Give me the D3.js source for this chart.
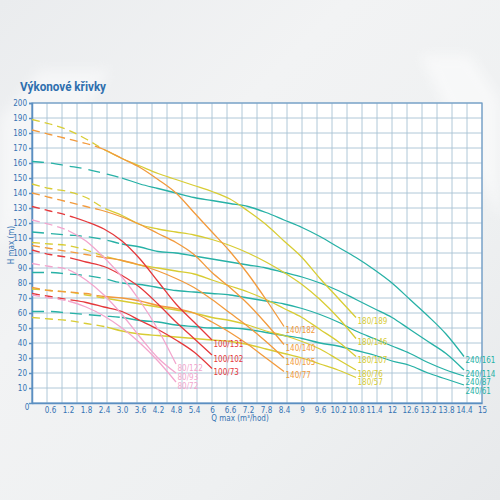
<!DOCTYPE html>
<html>
<head>
<meta charset="utf-8">
<script src="https://cdn.jsdelivr.net/npm/d3@7"></script>
<style>
  body { margin: 0; }
  svg { display: block; }
</style>
</head>
<body>
<div id="chart"></div>
<script>
// flow values (m3/hod) for each pump family
const q80 = [0, 0.6, 1.2, 1.8, 2.4, 3.0, 3.6, 4.2, 4.8];
const q100 = [0, 0.6, 1.2, 1.8, 2.4, 3.0, 3.6, 4.2, 4.8, 5.4, 6.0];
const q140 = [0, 0.6, 1.2, 1.8, 2.4, 3.0, 3.6, 4.2, 4.8, 5.4, 6.0, 6.6, 7.2, 7.8, 8.4];
const q180 = [0, 0.6, 1.2, 1.8, 2.4, 3.0, 3.6, 4.2, 4.8, 5.4, 6.0, 6.6, 7.2, 7.8, 8.4, 9.0, 9.6, 10.2, 10.8];
const q240 = [0, 0.6, 1.2, 1.8, 2.4, 3.0, 3.6, 4.2, 4.8, 5.4, 6.0, 6.6, 7.2, 7.8, 8.4, 9.0, 9.6, 10.2, 10.8, 11.4, 12.0, 12.6, 13.2, 13.8, 14.4];

// head (m)
const h80_122 = [122, 119, 115, 108, 97, 84, 68, 49, 26];
const h80_93 = [93, 91, 89, 82, 72, 59, 44, 30, 20];
const h80_72 = [72, 70, 68, 64, 58, 50, 40, 28, 14];

const h100_131 = [131, 128, 125, 121, 116, 108, 96, 81, 66, 54, 42];
const h100_102 = [102, 99, 97, 94, 91, 85, 77, 66, 54, 43, 32];
const h100_73 = [73, 71, 69, 67, 64, 61, 55, 49, 42, 34, 23];

const h140_182 = [182, 179, 176, 173, 169, 163, 157, 149, 140, 127, 114, 101, 86, 69, 51];
const h140_140 = [140, 137, 134, 131, 128, 124, 119, 113, 107, 99, 87, 77, 66, 53, 39];
const h140_105 = [105, 103, 101, 99, 97, 95, 92, 88, 83, 77, 69, 60, 51, 41, 30];
const h140_77 = [77, 75, 74, 73, 71, 70, 68, 65, 63, 60, 54, 47, 39, 30, 21];

const h180_189 = [189, 186, 182, 176, 169, 163, 158, 153, 149, 145, 141, 136, 128, 119, 108, 97, 83, 70, 57];
const h180_146 = [146, 143, 141, 137, 130, 125, 119, 116, 114, 112, 109, 105, 100, 94, 87, 79, 69, 57, 43];
const h180_107 = [107, 106, 105, 102, 98, 95, 92, 90, 88, 86, 82, 78, 74, 69, 63, 57, 49, 41, 31];
const h180_76 = [76, 75, 74, 72, 70, 68, 66, 64, 62, 60, 57, 55, 52, 48, 45, 41, 36, 29, 22];
const h180_57 = [57, 56, 55, 53, 51, 48, 46, 45, 44, 43, 42, 41, 39, 36, 33, 30, 26, 22, 17];

const h240_161 = [161, 160, 158, 156, 153, 150, 146, 143, 140, 137, 135, 133, 131, 127, 122, 117, 111, 104, 97, 89, 80, 69, 58, 46, 31];
const h240_114 = [114, 113, 112, 111, 109, 106, 104, 101, 100, 98, 96, 94, 92, 90, 87, 84, 80, 75, 69, 63, 57, 49, 41, 33, 22];
const h240_87 = [87, 87, 86, 85, 83, 80, 79, 77, 75, 74, 73, 72, 70, 68, 66, 63, 59, 54, 48, 43, 38, 33, 27, 22, 18];
const h240_61 = [61, 61, 60, 59, 58, 57, 55, 54, 52, 51, 50, 50, 49, 47, 45, 43, 40, 38, 35, 32, 28, 25, 20, 16, 12];

// flow where the dashed (out of range) part of each family ends
const dashEnd = { "80": 1.2, "100": 1.4, "140": 2.2, "180": 2.5, "240": 3.0 };

const xTicks = [0.6, 1.2, 1.8, 2.4, 3.0, 3.6, 4.2, 4.8, 5.4, 6, 6.6, 7.2, 7.8, 8.4, 9, 9.6, 10.2, 10.8, 11.4, 12, 12.6, 13.2, 13.8, 14.4, 15];
const xTickLabels = ["0.6", "1.2", "1.8", "2.4", "3.0", "3.6", "4.2", "4.8", "5.4", "6", "6.6", "7.2", "7.8", "8.4", "9", "9.6", "10.2", "10.8", "11.4", "12", "12.6", "13.2", "13.8", "14.4", "15"];
const yTicks = [10, 20, 30, 40, 50, 60, 70, 80, 90, 100, 110, 120, 130, 140, 150, 160, 170, 180, 190, 200];

const colors = { "80": "#f3a5cd", "100": "#e5383b", "140": "#f29a3c", "180": "#d8cc34", "240": "#27b1a6" };

const families = [
  { fam: "240", q: q240, curves: [["240/161", h240_161], ["240/114", h240_114], ["240/87", h240_87], ["240/61", h240_61]] },
  { fam: "180", q: q180, curves: [["180/189", h180_189], ["180/146", h180_146], ["180/107", h180_107], ["180/76", h180_76], ["180/57", h180_57]] },
  { fam: "140", q: q140, curves: [["140/182", h140_182], ["140/140", h140_140], ["140/105", h140_105], ["140/77", h140_77]] },
  { fam: "100", q: q100, curves: [["100/131", h100_131], ["100/102", h100_102], ["100/73", h100_73]] },
  { fam: "80", q: q80, curves: [["80/122", h80_122], ["80/93", h80_93], ["80/72", h80_72]] }
];

const width = 500, height = 500;
const plotL = 32, plotR = 482, plotT = 103, plotB = 403;
const tickFont = "'Liberation Sans Narrow', 'DejaVu Sans Condensed', sans-serif";
const blue = "#3573b3";

const x = d3.scaleLinear().domain([0, 15]).range([plotL, plotR]);
const y = d3.scaleLinear().domain([0, 200]).range([plotB, plotT]);

const svg = d3.select("#chart").append("svg")
  .attr("width", width)
  .attr("height", height);

// background with soft light streaks
const defs = svg.append("defs");
const bg = defs.append("linearGradient").attr("id", "bg")
  .attr("x1", 0).attr("y1", 0).attr("x2", 1).attr("y2", 1);
bg.append("stop").attr("offset", "0%").attr("stop-color", "#eaecee");
bg.append("stop").attr("offset", "35%").attr("stop-color", "#f2f3f4");
bg.append("stop").attr("offset", "70%").attr("stop-color", "#eef0f1");
bg.append("stop").attr("offset", "100%").attr("stop-color", "#e7e9eb");
svg.append("rect").attr("width", width).attr("height", height).attr("fill", "url(#bg)");
defs.append("filter").attr("id", "soft")
  .append("feGaussianBlur").attr("stdDeviation", 6);
svg.append("path")
  .attr("d", "M0,120 L40,70 L110,70 L0,250 Z")
  .attr("fill", "#ffffff").attr("opacity", 0.45).attr("filter", "url(#soft)");
svg.append("path")
  .attr("d", "M420,55 L470,55 L500,100 L500,220 Z")
  .attr("fill", "#ffffff").attr("opacity", 0.5).attr("filter", "url(#soft)");

// title
svg.append("text")
  .attr("x", 20).attr("y", 91)
  .attr("font-family", "Roboto, sans-serif")
  .attr("font-weight", 700)
  .attr("font-size", 13)
  .attr("textLength", 86).attr("lengthAdjust", "spacingAndGlyphs")
  .attr("fill", "#2f6fae")
  .text("Výkonové křivky");

// plot area
svg.append("rect")
  .attr("x", plotL).attr("y", plotT)
  .attr("width", plotR - plotL).attr("height", plotB - plotT)
  .attr("fill", "#ffffff");

// grid
const grid = svg.append("g").attr("stroke", "#a7c2d4").attr("stroke-width", 0.9);
x.ticks(25).forEach(v => {
  grid.append("line")
    .attr("x1", x(v)).attr("x2", x(v))
    .attr("y1", plotT).attr("y2", plotB);
});
yTicks.forEach(v => {
  grid.append("line")
    .attr("x1", plotL).attr("x2", plotR)
    .attr("y1", y(v)).attr("y2", y(v));
});

// frame
svg.append("rect")
  .attr("x", plotL).attr("y", plotT)
  .attr("width", plotR - plotL).attr("height", plotB - plotT)
  .attr("fill", "none")
  .attr("stroke", "#6f9cc6").attr("stroke-width", 1.2);

// left axis
const yAxis = svg.append("g")
  .attr("transform", `translate(${plotL},0)`)
  .call(d3.axisLeft(y).tickValues(yTicks).tickSize(3).tickPadding(2));
yAxis.select(".domain").attr("stroke", "#5b8fc2").attr("stroke-width", 1.5);
yAxis.selectAll(".tick line").attr("stroke", "#5b8fc2").attr("stroke-width", 1.5);
yAxis.selectAll(".tick text")
  .attr("fill", blue).attr("font-family", tickFont).attr("font-size", 8);

// bottom axis
const xAxis = svg.append("g")
  .attr("transform", `translate(0,${plotB})`)
  .call(d3.axisBottom(x).tickValues(xTicks).tickSize(0).tickPadding(4)
    .tickFormat((d, i) => xTickLabels[i]));
xAxis.select(".domain").attr("stroke", "#5b8fc2").attr("stroke-width", 1.5);
xAxis.selectAll(".tick text")
  .attr("fill", blue).attr("font-family", tickFont).attr("font-size", 8);

svg.append("text")
  .attr("x", 27).attr("y", 410)
  .attr("text-anchor", "middle")
  .attr("fill", blue).attr("font-family", tickFont).attr("font-size", 8)
  .text("0");

// axis titles
svg.append("text")
  .attr("transform", `translate(14,${(plotT + plotB) / 2 - 8}) rotate(-90)`)
  .attr("text-anchor", "middle")
  .attr("fill", blue).attr("font-family", tickFont).attr("font-size", 8)
  .text("H max (m)");
svg.append("text")
  .attr("x", 240).attr("y", 421)
  .attr("text-anchor", "middle")
  .attr("fill", blue).attr("font-family", tickFont).attr("font-size", 8)
  .text("Q max (m³/hod)");

// clip regions: dashed part / solid part of every family
families.forEach(f => {
  defs.append("clipPath").attr("id", "dash" + f.fam)
    .append("rect")
    .attr("x", plotL - 2).attr("y", plotT - 5)
    .attr("width", x(dashEnd[f.fam]) - plotL + 2).attr("height", plotB - plotT + 10);
  defs.append("clipPath").attr("id", "solid" + f.fam)
    .append("rect")
    .attr("x", x(dashEnd[f.fam])).attr("y", plotT - 5)
    .attr("width", plotR - x(dashEnd[f.fam])).attr("height", plotB - plotT + 10);
});

const line = d3.line()
  .x(d => x(d[0]))
  .y(d => y(d[1]))
  .curve(d3.curveMonotoneX);

const labelFont = "'Liberation Sans Narrow', 'DejaVu Sans Condensed', sans-serif";

families.forEach(f => {
  const col = colors[f.fam];
  const dashes = f.fam === "240" ? "12,7" : "8,5";
  let lastLabelY = -100;
  f.curves.forEach(([name, h]) => {
    const pts = f.q.map((v, i) => [v, h[i]]);
    svg.append("path")
      .attr("d", line(pts))
      .attr("clip-path", `url(#dash${f.fam})`)
      .attr("fill", "none")
      .attr("stroke", col)
      .attr("stroke-width", 1.3)
      .attr("stroke-dasharray", dashes);
    svg.append("path")
      .attr("d", line(pts))
      .attr("clip-path", `url(#solid${f.fam})`)
      .attr("fill", "none")
      .attr("stroke", col)
      .attr("stroke-width", 1.3);

    // label next to the end of the curve, pushed down if it would overlap
    const endQ = f.q[f.q.length - 1];
    let ly = y(h[h.length - 1]) + 4;
    if (ly < lastLabelY + 8.5) ly = lastLabelY + 8.5;
    lastLabelY = ly;
    svg.append("text")
      .attr("x", x(endQ) + 1.5)
      .attr("y", ly)
      .attr("dy", "0.35em")
      .attr("fill", col)
      .attr("font-family", labelFont)
      .attr("font-size", 8)
      .text(name);
  });
});
</script>
</body>
</html>
